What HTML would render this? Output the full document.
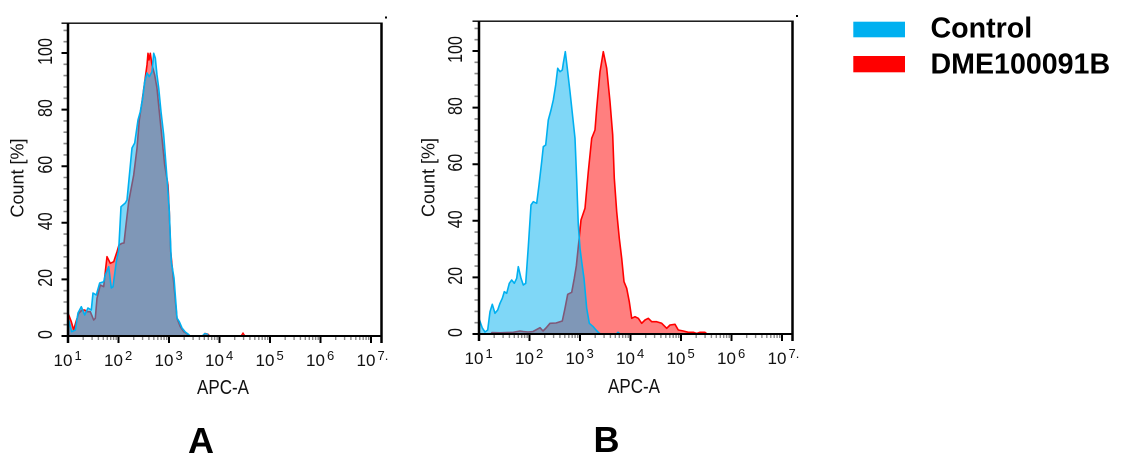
<!DOCTYPE html>
<html>
<head>
<meta charset="utf-8">
<style>
html,body{margin:0;padding:0;background:#fff;}
svg{display:block;font-family:"Liberation Sans",Arial,sans-serif;}
</style>
</head>
<body>
<svg width="1131" height="471" viewBox="0 0 1131 471" xmlns="http://www.w3.org/2000/svg">
<defs>
  <g id="mx">
    <path d="M15.2,0v4M24.1,0v4M30.4,0v4M35.3,0v4M39.3,0v4M42.7,0v4M45.6,0v4M48.2,0v4" stroke="#8a8a8a" stroke-width="1.4" fill="none"/>
  </g>
  <g id="axes">
    <use href="#mx" transform="translate(68,336)"/>
    <use href="#mx" transform="translate(118.5,336)"/>
    <use href="#mx" transform="translate(169,336)"/>
    <use href="#mx" transform="translate(219.5,336)"/>
    <use href="#mx" transform="translate(270,336)"/>
    <use href="#mx" transform="translate(320.5,336)"/>
    <path d="M63.5,324.7H68M63.5,313.4H68M63.5,302H68M63.5,290.7H68M63.5,268.1H68M63.5,256.8H68M63.5,245.4H68M63.5,234.1H68M63.5,211.5H68M63.5,200.2H68M63.5,188.8H68M63.5,177.5H68M63.5,154.9H68M63.5,143.6H68M63.5,132.2H68M63.5,120.9H68M63.5,98.3H68M63.5,87H68M63.5,75.6H68M63.5,64.3H68M63.5,41.7H68M63.5,30.4H68" stroke="#8a8a8a" stroke-width="1.6" fill="none"/>
    <path d="M61.5,336H68M61.5,279.4H68M61.5,222.8H68M61.5,166.2H68M61.5,109.6H68M61.5,53H68" stroke="#000" stroke-width="2" fill="none"/>
    <path d="M118.5,336V343M169,336V343M219.5,336V343M270,336V343M320.5,336V343M371,336V343" stroke="#000" stroke-width="2" fill="none"/>
    <path d="M61.5,23.2H382.5" stroke="#000" stroke-width="1.3" fill="none"/>
    <path d="M68,22.5V343" stroke="#000" stroke-width="2.5" fill="none"/>
    <path d="M66.7,336H382" stroke="#000" stroke-width="2" fill="none"/>
    <path d="M381.5,22.5V343" stroke="#000" stroke-width="2.5" fill="none"/>
  </g>
</defs>

<!-- ================= PANEL A DATA ================= -->
<path d="M68,336 L68,313 71.3,321.7 73.7,330 76,321.7 78.7,313.3 82,310 84.7,310 87,311.7 90.3,311.7 93.7,320 95.3,318.3 97,298.3 100.3,285 103.7,286.7 105.3,271.7 107,256.7 110.3,263.3 113.7,261.7 117,251.7 119,245 122,243.3 124,243 126,225 128.7,201.7 133.7,175 137,148.3 139.3,120 142,101.7 144.7,81.7 147,65 148,53.3 149,60 150.3,53.3 152,65 154.7,75 157,88.3 159.3,111.7 162,138.3 164.7,165 168,185 169.3,211.7 170.7,251.7 173,275 177,318.3 180.3,326.7 183.7,331.7 187,333.7 189,336 Z" fill="rgba(255,0,0,0.5)" stroke="#ff0000" stroke-width="1.6" stroke-linejoin="round"/>
<path d="M203,336 L205,333.3 208,334 210,336 Z M241,336 L243,333 245,336 Z" fill="rgba(255,0,0,0.6)" stroke="#ff0000" stroke-width="1.2"/>
<path d="M68,336 L68.7,320 71.7,331.7 75.3,330 78,313 81.3,306.7 84.7,315 88,308 91.3,310 93,293 96.3,295 99.7,283 103.7,281.7 105.3,275 108.7,266.7 111.3,288 113,286.7 116.3,261.7 118.7,250 121,206.7 125.3,203 127,200 132,148 134.7,143 138,120 140.3,111.7 142.7,98 144.7,81.7 147,73 149.3,76.7 152,71.7 153.7,53.3 155.3,58 157,75 158.7,88 161,111.7 163.7,135 167,178 169.3,211.7 171.3,261.7 174,278 177,318 179.3,321.7 182,328 185.3,332 188,334 190,336 Z" fill="rgba(0,176,240,0.5)" stroke="#00b0f0" stroke-width="1.6" stroke-linejoin="round"/>
<path d="M202,336 L204.5,333.5 207,333.8 209,336 Z" fill="rgba(0,176,240,0.5)" stroke="#00b0f0" stroke-width="1.2"/>

<!-- ================= PANEL B DATA ================= -->
<path d="M491,334 L492,332.5 500,332.8 513.3,332.3 520,331 523.3,331.5 528,332 533,331.5 540,327.7 543,331 546,328 550,323.3 556,323 562.3,321 565,308.3 567.7,294.3 571.7,292.3 574.3,278.3 576.3,266 579,240 581,220 585,208.3 588.3,171.7 591.7,138.3 595,130 596.7,108.3 600,71.7 603.3,51.7 606.7,68.3 610,101.7 612.7,135 614.3,178.3 616.7,211.7 619.3,238.3 621.7,258.3 624,281.7 626.7,288.3 629.3,301.7 631.7,318.3 635,316.7 638.3,318.3 641.7,323.3 645,320 648.3,318.3 651.7,321.7 656.7,321.7 661.7,323.3 666.7,328.3 670,325 675,324.3 678.3,330 683.3,331 688.3,332.3 693.3,332.3 696.7,333.5 700,332.3 705,332.3 707,334 Z" fill="rgba(255,0,0,0.5)" stroke="#ff0000" stroke-width="1.6" stroke-linejoin="round"/>
<path d="M479,334 L479.5,320 482.3,328 485,332 487.7,330 490,311.7 492.3,304.3 495,313.3 497.7,310 500,303.3 502.3,298.3 504.3,291.7 506.7,293.3 509.3,283.3 511.7,280 514.3,283.3 516.7,278.3 518.3,266.7 521,278.3 523.3,285 525.7,283.3 528.3,246.7 531,205 533.3,201.7 536.7,203.3 539,185 541.7,161.7 543.3,146.7 545.7,145 548.3,120 551,110 553.3,100 555.7,85 557.7,68.3 560,71.7 562.3,70 563.3,63.3 565.3,51.7 567.3,68.3 570,91.7 572.7,116.7 575,138.3 576.7,180 578.3,225 580,248.3 581.7,261.7 584,278.3 586.7,308.3 589.3,323.3 593.3,326.7 596,330 599.3,333.3 601,334 Z" fill="rgba(0,176,240,0.5)" stroke="#00b0f0" stroke-width="1.6" stroke-linejoin="round"/>
<path d="M616,334 L618,332 620.5,334 Z" fill="rgba(0,176,240,0.5)" stroke="#00b0f0" stroke-width="1.2"/>

<!-- ================= AXES ================= -->
<use href="#axes"/>
<use href="#axes" transform="translate(411,-2)"/>

<rect x="385" y="16.5" width="2" height="2" fill="#000"/>
<rect x="796" y="15" width="2" height="2" fill="#000"/>

<!-- ================= PANEL A TEXT ================= -->
<g font-size="16" fill="#111" text-anchor="middle">
  <text transform="translate(45,334.5) rotate(-90) scale(1,1.25)" y="5.7">0</text>
  <text transform="translate(45,277.9) rotate(-90) scale(1,1.25)" y="5.7">20</text>
  <text transform="translate(45,221.3) rotate(-90) scale(1,1.25)" y="5.7">40</text>
  <text transform="translate(45,164.7) rotate(-90) scale(1,1.25)" y="5.7">60</text>
  <text transform="translate(45,108.1) rotate(-90) scale(1,1.25)" y="5.7">80</text>
  <text transform="translate(45,51.5) rotate(-90) scale(1,1.25)" y="5.7">100</text>
</g>
<text transform="translate(17,178) rotate(-90)" y="6.4" font-size="18" text-anchor="middle" fill="#111">Count [%]</text>

<g font-size="17" fill="#111">
  <text x="53.5" y="366">10</text>
  <text x="104" y="366">10</text>
  <text x="154.5" y="366">10</text>
  <text x="205" y="366">10</text>
  <text x="255.5" y="366">10</text>
  <text x="306" y="366">10</text>
  <text x="356.5" y="366">10</text>
</g>
<g font-size="13" fill="#111">
  <text x="74.5" y="360">1</text>
  <text x="125" y="360">2</text>
  <text x="175.5" y="360">3</text>
  <text x="226" y="360">4</text>
  <text x="276.5" y="360">5</text>
  <text x="327" y="360">6</text>
  <text x="377.5" y="360">7.</text>
</g>
<text transform="translate(223,394) scale(1,1.2)" font-size="17" text-anchor="middle" fill="#111">APC-A</text>
<text x="201" y="453" font-size="36" font-weight="bold" text-anchor="middle" fill="#000">A</text>

<!-- ================= PANEL B TEXT ================= -->
<g font-size="16" fill="#111" text-anchor="middle">
  <text transform="translate(455,332.5) rotate(-90) scale(1,1.25)" y="5.7">0</text>
  <text transform="translate(455,275.9) rotate(-90) scale(1,1.25)" y="5.7">20</text>
  <text transform="translate(455,219.3) rotate(-90) scale(1,1.25)" y="5.7">40</text>
  <text transform="translate(455,162.7) rotate(-90) scale(1,1.25)" y="5.7">60</text>
  <text transform="translate(455,106.1) rotate(-90) scale(1,1.25)" y="5.7">80</text>
  <text transform="translate(455,49.5) rotate(-90) scale(1,1.25)" y="5.7">100</text>
</g>
<text transform="translate(428,177.5) rotate(-90)" y="6.4" font-size="18" text-anchor="middle" fill="#111">Count [%]</text>

<g font-size="17" fill="#111">
  <text x="464.5" y="364">10</text>
  <text x="515" y="364">10</text>
  <text x="565.5" y="364">10</text>
  <text x="616" y="364">10</text>
  <text x="666.5" y="364">10</text>
  <text x="717" y="364">10</text>
  <text x="767.5" y="364">10</text>
</g>
<g font-size="13" fill="#111">
  <text x="485.5" y="358">1</text>
  <text x="536" y="358">2</text>
  <text x="586.5" y="358">3</text>
  <text x="637" y="358">4</text>
  <text x="687.5" y="358">5</text>
  <text x="738" y="358">6</text>
  <text x="788.5" y="358">7.</text>
</g>
<text transform="translate(634,393) scale(1,1.2)" font-size="17" text-anchor="middle" fill="#111">APC-A</text>
<text x="606.5" y="452" font-size="36" font-weight="bold" text-anchor="middle" fill="#000">B</text>

<!-- ================= LEGEND ================= -->
<rect x="853.3" y="21.7" width="51.7" height="15.6" fill="#00b0f0"/>
<rect x="853.3" y="56" width="51.7" height="16.3" fill="#ff0000"/>
<text x="930.5" y="37.3" font-size="28.6" font-weight="bold" fill="#000">Control</text>
<text x="930.5" y="73.3" font-size="28.6" font-weight="bold" fill="#000">DME100091B</text>
</svg>
</body>
</html>
